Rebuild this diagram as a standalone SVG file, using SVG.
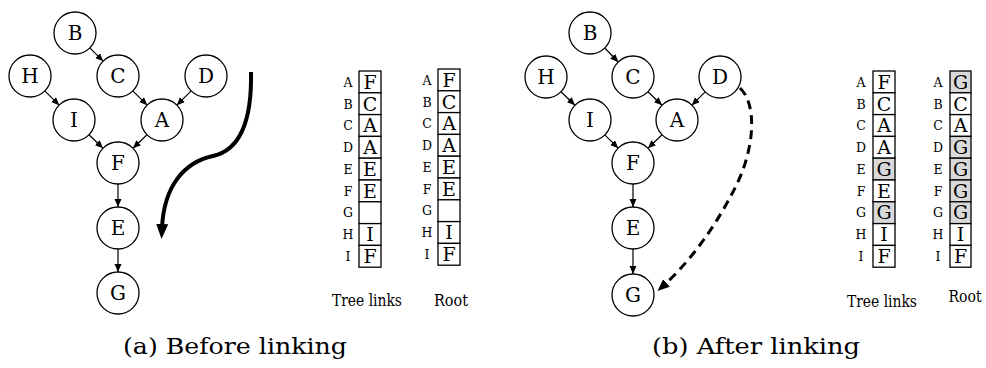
<svg xmlns="http://www.w3.org/2000/svg" width="986" height="368" viewBox="0 0 986 368">
<style>
text{font-family:'DejaVu Serif',serif;fill:#000}
.n circle{fill:#fff;stroke:#000;stroke-width:1.3}
.n text{font-size:20px;text-anchor:middle;dominant-baseline:central}
.e{stroke:#000;stroke-width:1.2;fill:none;marker-end:url(#ah)}
.cell{fill:#fff;stroke:#000;stroke-width:1.3}
.sh{fill:#d9d9d9}
.lab{font-size:12.5px;text-anchor:middle}
.val{font-size:19px;text-anchor:middle}
.cap{font-size:16.5px;text-anchor:middle}
.sub{font-size:23px;text-anchor:middle}
</style>
<defs>
<marker id="ah" markerUnits="userSpaceOnUse" markerWidth="10" markerHeight="8" refX="8" refY="3.5" orient="auto"><path d="M0,0 L8,3.5 L0,7 z" fill="#000"/></marker>
<marker id="big" markerUnits="userSpaceOnUse" markerWidth="16" markerHeight="14" refX="4" refY="6" orient="auto"><path d="M0,0 L15,6 L0,12 z" fill="#000"/></marker>
<marker id="dash" markerUnits="userSpaceOnUse" markerWidth="14" markerHeight="12" refX="6" refY="5" orient="auto"><path d="M0,0 L12,5 L0,10 z" fill="#000"/></marker>
</defs>

<!-- Left graph -->
<g id="connectors-a">
<line class="e" x1="89.8" y1="47.8" x2="103.2" y2="61.2"/>
<line class="e" x1="44.8" y1="90.8" x2="59.2" y2="105.2"/>
<line class="e" x1="132.8" y1="90.8" x2="147.2" y2="105.2"/>
<line class="e" x1="191.2" y1="90.8" x2="176.8" y2="105.2"/>
<line class="e" x1="89" y1="134.7" x2="103" y2="148.3"/>
<line class="e" x1="147" y1="134.7" x2="133" y2="148.3"/>
<line class="e" x1="118" y1="184" x2="118" y2="207"/>
<line class="e" x1="118" y1="249" x2="118" y2="272"/>
<path d="M251,72 C252,120 240,150 213,156 C185,162 164,185 162,228" fill="none" stroke="#000" stroke-width="4" marker-end="url(#big)"/>
</g>
<g id="a-B" class="n"><circle cx="75" cy="33" r="21"/><text x="75" y="33">B</text></g>
<g id="a-H" class="n"><circle cx="30" cy="76" r="21"/><text x="30" y="76">H</text></g>
<g id="a-C" class="n"><circle cx="118" cy="76" r="21"/><text x="118" y="76">C</text></g>
<g id="a-D" class="n"><circle cx="206" cy="76" r="21"/><text x="206" y="76">D</text></g>
<g id="a-I" class="n"><circle cx="74" cy="120" r="21"/><text x="74" y="120">I</text></g>
<g id="a-A" class="n"><circle cx="162" cy="120" r="21"/><text x="162" y="120">A</text></g>
<g id="a-F" class="n"><circle cx="118" cy="163" r="21"/><text x="118" y="163">F</text></g>
<g id="a-E" class="n"><circle cx="118" cy="228" r="21"/><text x="118" y="228">E</text></g>
<g id="a-G" class="n"><circle cx="118" cy="293" r="21"/><text x="118" y="293">G</text></g>

<!-- Left tables -->
<g id="a-tree">
<g class="lab">
<text x="348" y="87">A</text><text x="348" y="109">B</text><text x="348" y="130">C</text><text x="348" y="152">D</text><text x="348" y="174">E</text><text x="348" y="196">F</text><text x="348" y="217">G</text><text x="348" y="239">H</text><text x="348" y="261">I</text>
</g>
<rect class="cell" x="359" y="71" width="22" height="21.8"/>
<rect class="cell" x="359" y="92.8" width="22" height="21.8"/>
<rect class="cell" x="359" y="114.6" width="22" height="21.8"/>
<rect class="cell" x="359" y="136.4" width="22" height="21.8"/>
<rect class="cell" x="359" y="158.2" width="22" height="21.8"/>
<rect class="cell" x="359" y="180" width="22" height="21.8"/>
<rect class="cell" x="359" y="201.8" width="22" height="21.8"/>
<rect class="cell" x="359" y="223.6" width="22" height="21.8"/>
<rect class="cell" x="359" y="245.4" width="22" height="21.8"/>
<g class="val">
<text x="370" y="89">F</text><text x="370" y="111">C</text><text x="370" y="132">A</text><text x="370" y="154">A</text><text x="370" y="176">E</text><text x="370" y="198">E</text><text x="370" y="241">I</text><text x="370" y="263">F</text>
</g>
<text class="cap" x="367" y="306" textLength="70" lengthAdjust="spacingAndGlyphs">Tree links</text>
</g>
<g id="a-root">
<g class="lab">
<text x="427" y="85">A</text><text x="427" y="107">B</text><text x="427" y="128">C</text><text x="427" y="150">D</text><text x="427" y="172">E</text><text x="427" y="194">F</text><text x="427" y="215">G</text><text x="427" y="237">H</text><text x="427" y="259">I</text>
</g>
<rect class="cell" x="438" y="69" width="22" height="21.8"/>
<rect class="cell" x="438" y="90.8" width="22" height="21.8"/>
<rect class="cell" x="438" y="112.6" width="22" height="21.8"/>
<rect class="cell" x="438" y="134.4" width="22" height="21.8"/>
<rect class="cell" x="438" y="156.2" width="22" height="21.8"/>
<rect class="cell" x="438" y="178" width="22" height="21.8"/>
<rect class="cell" x="438" y="199.8" width="22" height="21.8"/>
<rect class="cell" x="438" y="221.6" width="22" height="21.8"/>
<rect class="cell" x="438" y="243.4" width="22" height="21.8"/>
<g class="val">
<text x="449" y="87">F</text><text x="449" y="109">C</text><text x="449" y="130">A</text><text x="449" y="152">A</text><text x="449" y="174">E</text><text x="449" y="196">E</text><text x="449" y="239">I</text><text x="449" y="261">F</text>
</g>
<text class="cap" x="451" y="306" textLength="34" lengthAdjust="spacingAndGlyphs">Root</text>
</g>
<text class="sub" x="235" y="354" textLength="224" lengthAdjust="spacingAndGlyphs">(a) Before linking</text>

<!-- Right graph -->
<g id="connectors-b">
<line class="e" x1="604.7" y1="48" x2="618.3" y2="62"/>
<line class="e" x1="561" y1="91.7" x2="575" y2="105.3"/>
<line class="e" x1="648" y1="91.7" x2="662" y2="105.3"/>
<line class="e" x1="705.2" y1="91.8" x2="691.8" y2="105.2"/>
<line class="e" x1="604.8" y1="134.8" x2="618.2" y2="148.2"/>
<line class="e" x1="662" y1="134.7" x2="648" y2="148.3"/>
<line class="e" x1="633" y1="184" x2="633" y2="207"/>
<line class="e" x1="633" y1="249" x2="633" y2="274"/>
<path d="M740,88 C758,105 754,150 736,186 C717,224 692,260 662,287" fill="none" stroke="#000" stroke-width="3" stroke-dasharray="9 6" marker-end="url(#dash)"/>
</g>
<g id="b-B" class="n"><circle cx="590" cy="33" r="21"/><text x="590" y="33">B</text></g>
<g id="b-H" class="n"><circle cx="546" cy="77" r="21"/><text x="546" y="77">H</text></g>
<g id="b-C" class="n"><circle cx="633" cy="77" r="21"/><text x="633" y="77">C</text></g>
<g id="b-D" class="n"><circle cx="720" cy="77" r="21"/><text x="720" y="77">D</text></g>
<g id="b-I" class="n"><circle cx="590" cy="120" r="21"/><text x="590" y="120">I</text></g>
<g id="b-A" class="n"><circle cx="677" cy="120" r="21"/><text x="677" y="120">A</text></g>
<g id="b-F" class="n"><circle cx="633" cy="163" r="21"/><text x="633" y="163">F</text></g>
<g id="b-E" class="n"><circle cx="633" cy="228" r="21"/><text x="633" y="228">E</text></g>
<g id="b-G" class="n"><circle cx="633" cy="295" r="21"/><text x="633" y="295">G</text></g>

<!-- Right tables -->
<g id="b-tree">
<g class="lab">
<text x="861" y="87">A</text><text x="861" y="109">B</text><text x="861" y="130">C</text><text x="861" y="152">D</text><text x="861" y="174">E</text><text x="861" y="196">F</text><text x="861" y="217">G</text><text x="861" y="239">H</text><text x="861" y="261">I</text>
</g>
<rect class="cell" x="873" y="71" width="22" height="21.8"/>
<rect class="cell" x="873" y="92.8" width="22" height="21.8"/>
<rect class="cell" x="873" y="114.6" width="22" height="21.8"/>
<rect class="cell" x="873" y="136.4" width="22" height="21.8"/>
<rect class="cell sh" x="873" y="158.2" width="22" height="21.8"/>
<rect class="cell" x="873" y="180" width="22" height="21.8"/>
<rect class="cell sh" x="873" y="201.8" width="22" height="21.8"/>
<rect class="cell" x="873" y="223.6" width="22" height="21.8"/>
<rect class="cell" x="873" y="245.4" width="22" height="21.8"/>
<g class="val">
<text x="884" y="89">F</text><text x="884" y="111">C</text><text x="884" y="132">A</text><text x="884" y="154">A</text><text x="884" y="176">G</text><text x="884" y="198">E</text><text x="884" y="219">G</text><text x="884" y="241">I</text><text x="884" y="263">F</text>
</g>
<text class="cap" x="882" y="307" textLength="70" lengthAdjust="spacingAndGlyphs">Tree links</text>
</g>
<g id="b-root">
<g class="lab">
<text x="938" y="87">A</text><text x="938" y="109">B</text><text x="938" y="130">C</text><text x="938" y="152">D</text><text x="938" y="174">E</text><text x="938" y="196">F</text><text x="938" y="217">G</text><text x="938" y="239">H</text><text x="938" y="261">I</text>
</g>
<rect class="cell sh" x="950" y="71" width="21" height="21.8"/>
<rect class="cell" x="950" y="92.8" width="21" height="21.8"/>
<rect class="cell" x="950" y="114.6" width="21" height="21.8"/>
<rect class="cell sh" x="950" y="136.4" width="21" height="21.8"/>
<rect class="cell sh" x="950" y="158.2" width="21" height="21.8"/>
<rect class="cell sh" x="950" y="180" width="21" height="21.8"/>
<rect class="cell sh" x="950" y="201.8" width="21" height="21.8"/>
<rect class="cell" x="950" y="223.6" width="21" height="21.8"/>
<rect class="cell" x="950" y="245.4" width="21" height="21.8"/>
<g class="val">
<text x="960.5" y="89">G</text><text x="960.5" y="111">C</text><text x="960.5" y="132">A</text><text x="960.5" y="154">G</text><text x="960.5" y="176">G</text><text x="960.5" y="198">G</text><text x="960.5" y="219">G</text><text x="960.5" y="241">I</text><text x="960.5" y="263">F</text>
</g>
<text class="cap" x="965" y="302" textLength="33" lengthAdjust="spacingAndGlyphs">Root</text>
</g>
<text class="sub" x="756" y="354" textLength="208" lengthAdjust="spacingAndGlyphs">(b) After linking</text>
</svg>
